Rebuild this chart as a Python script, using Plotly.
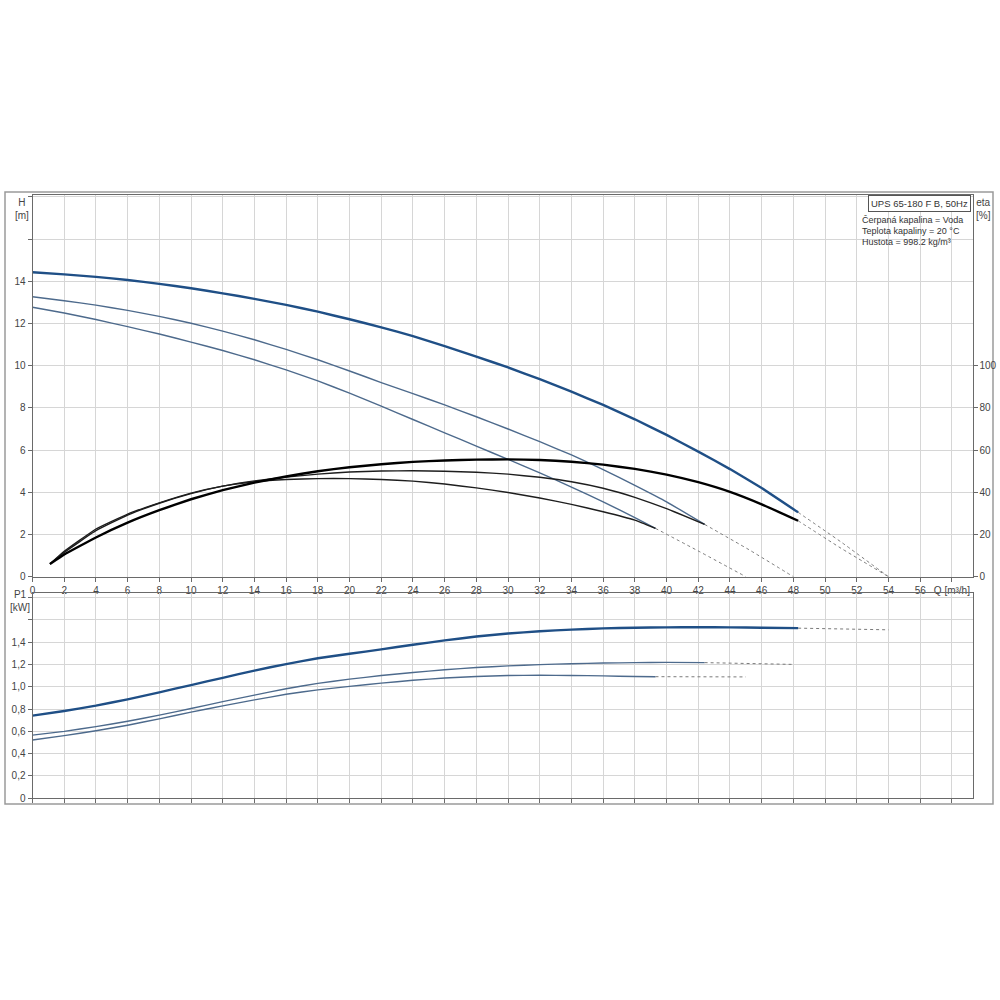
import plotly.graph_objects as go

# ---------------- data ----------------
# Head curves H [m] vs Q [m3/h]
q_h_high = [0, 2, 4, 6, 8, 10, 12, 14, 16, 18, 20, 22, 24, 26, 28, 30, 32, 34, 36, 38, 40, 42, 44, 46, 48.3]
h_high = [14.43, 14.33, 14.21, 14.06, 13.88, 13.67, 13.43, 13.17, 12.88, 12.56, 12.2, 11.82, 11.4,
          10.93, 10.43, 9.92, 9.36, 8.77, 8.14, 7.46, 6.72, 5.93, 5.1, 4.2, 3.05]
q_h_mid = [0, 2, 4, 6, 8, 10, 12, 14, 16, 18, 20, 22, 24, 26, 28, 30, 32, 34, 36, 38, 40, 42.4]
h_mid = [13.27, 13.08, 12.87, 12.62, 12.34, 12.01, 11.64, 11.23, 10.77, 10.28, 9.75, 9.2, 8.68,
         8.14, 7.58, 7.0, 6.4, 5.77, 5.08, 4.33, 3.55, 2.48]
q_h_low = [0, 2, 4, 6, 8, 10, 12, 14, 16, 18, 20, 22, 24, 26, 28, 30, 32, 34, 36, 38, 39.3]
h_low = [12.77, 12.5, 12.19, 11.85, 11.5, 11.12, 10.72, 10.28, 9.8, 9.28, 8.7, 8.08, 7.45,
         6.82, 6.19, 5.56, 4.92, 4.25, 3.55, 2.8, 2.29]

# Extrapolated (dotted) head parts
q_h_high_ext = [48.3, 51, 54]
h_high_ext = [3.05, 1.65, 0]
q_h_mid_ext = [42.4, 45.2, 48]
h_mid_ext = [2.48, 1.28, 0]
q_h_low_ext = [39.3, 42.1, 45]
h_low_ext = [2.29, 1.18, 0]

# Efficiency curves eta [%]
q_eta_high = [1.1, 2, 4, 6, 8, 10, 12, 14, 16, 18, 20, 22, 24, 26, 28, 30, 32, 34, 36, 38, 40, 42, 44, 46, 48.3]
eta_high = [6, 10.5, 18.6, 25.6, 31.5, 36.7, 41, 44.6, 47.5, 50, 51.9, 53.3, 54.4, 55.1, 55.5, 55.6,
            55.3, 54.5, 53.1, 51.1, 48.4, 44.8, 40.2, 34.3, 26.5]
q_eta_mid = [1.1, 2, 4, 6, 8, 10, 12, 14, 16, 18, 20, 22, 24, 26, 28, 30, 32, 34, 36, 38, 40, 42.4]
eta_mid = [6, 11.5, 21.8, 29.2, 34.8, 39.4, 42.9, 45.4, 47.2, 48.6, 49.6, 50.1, 50.2, 50.0, 49.5,
           48.6, 47.1, 45.0, 41.9, 37.6, 32.3, 24.8]
q_eta_low = [1.1, 2, 4, 6, 8, 10, 12, 14, 16, 18, 20, 22, 24, 26, 28, 30, 32, 34, 36, 38, 39.3]
eta_low = [6, 12, 22.6, 29.7, 35, 39.6, 42.9, 45, 46.1, 46.5, 46.5, 46.1, 45.3, 43.9, 42.1, 39.9,
           37.3, 34.3, 30.8, 26.8, 22.9]
q_eta_high_ext = [48.3, 51, 54]
eta_high_ext = [26.5, 13.5, 0]

# Power curves P1 [kW]
q_p_high = [0, 2, 4, 6, 8, 10, 12, 14, 16, 18, 20, 22, 24, 26, 28, 30, 32, 34, 36, 38, 40, 42, 44, 46, 48.3]
p_high = [0.741, 0.783, 0.83, 0.887, 0.95, 1.015, 1.08, 1.145, 1.203, 1.255, 1.295, 1.335, 1.376,
          1.415, 1.45, 1.477, 1.497, 1.512, 1.523, 1.529, 1.532, 1.533, 1.532, 1.529, 1.525]
q_p_mid = [0, 2, 4, 6, 8, 10, 12, 14, 16, 18, 20, 22, 24, 26, 28, 30, 32, 34, 36, 38, 40, 42.4]
p_mid = [0.566, 0.6, 0.642, 0.69, 0.745, 0.805, 0.866, 0.925, 0.982, 1.03, 1.068, 1.1, 1.128,
         1.152, 1.172, 1.187, 1.198, 1.206, 1.212, 1.216, 1.218, 1.216]
q_p_low = [0, 2, 4, 6, 8, 10, 12, 14, 16, 18, 20, 22, 24, 26, 28, 30, 32, 34, 36, 38, 39.3]
p_low = [0.522, 0.562, 0.605, 0.655, 0.712, 0.772, 0.828, 0.882, 0.932, 0.972, 1.003, 1.032, 1.058,
         1.078, 1.092, 1.10, 1.103, 1.101, 1.097, 1.092, 1.09]
q_p_high_ext = [48.3, 54]
p_high_ext = [1.525, 1.51]
q_p_mid_ext = [42.4, 48]
p_mid_ext = [1.216, 1.20]
q_p_low_ext = [39.3, 45]
p_low_ext = [1.09, 1.088]

# Ticks
q_ticks = list(range(0, 60, 2))
q_ticktext = [str(v) for v in range(0, 58, 2)] + ["Q [m³/h]"]
h_ticks = list(range(0, 20, 2))
h_ticktext = [str(v) for v in range(0, 16, 2)] + ["", ""]
eta_ticks = [0, 20, 40, 60, 80, 100]
p_ticks = [0, 0.2, 0.4, 0.6, 0.8, 1.0, 1.2, 1.4, 1.6, 1.8]
p_ticktext = ["0", "0,2", "0,4", "0,6", "0,8", "1,0", "1,2", "1,4", "", ""]

title_box = "UPS 65-180 F B, 50Hz"
info_lines = ["Čerpaná kapalina = Voda", "Teplota kapaliny = 20 °C", "Hustota = 998.2 kg/m³"]

# ---------------- styles ----------------
C_MAIN = "#1f4f86"
C_SUB = "#4d6a8c"
C_ETA = "#000000"
C_ETA2 = "#1e1e1e"
C_EXT = "#7a7a7a"
GRID = "#d6d6d6"
AXIS = "#6a6a6a"
FONT = "Liberation Sans, Arial, sans-serif"

fig = go.Figure()


def line(x, y, color, width, xa="x", ya="y", dash="solid"):
    fig.add_trace(go.Scatter(x=x, y=y, mode="lines", xaxis=xa, yaxis=ya,
                             line=dict(color=color, width=width, dash=dash, shape="spline", smoothing=0.3),
                             showlegend=False, hoverinfo="skip"))


# dotted extensions first (underneath)
line(q_h_high_ext, h_high_ext, C_EXT, 1, dash="dot")
line(q_h_mid_ext, h_mid_ext, C_EXT, 1, dash="dot")
line(q_h_low_ext, h_low_ext, C_EXT, 1, dash="dot")
line(q_eta_high_ext, eta_high_ext, C_EXT, 1, ya="y3", dash="dot")
line(q_p_high_ext, p_high_ext, C_EXT, 1, xa="x2", ya="y2", dash="dot")
line(q_p_mid_ext, p_mid_ext, C_EXT, 1, xa="x2", ya="y2", dash="dot")
line(q_p_low_ext, p_low_ext, C_EXT, 1, xa="x2", ya="y2", dash="dot")

# head
line(q_h_mid, h_mid, C_SUB, 1.4)
line(q_h_low, h_low, C_SUB, 1.4)
line(q_h_high, h_high, C_MAIN, 2.4)
# efficiency
line(q_eta_mid, eta_mid, C_ETA2, 1.4, ya="y3")
line(q_eta_low, eta_low, C_ETA2, 1.4, ya="y3")
line(q_eta_high, eta_high, C_ETA, 2.4, ya="y3")
# power
line(q_p_mid, p_mid, C_SUB, 1.4, xa="x2", ya="y2")
line(q_p_low, p_low, C_SUB, 1.4, xa="x2", ya="y2")
line(q_p_high, p_high, C_MAIN, 2.4, xa="x2", ya="y2")

XDOM = [0.0325, 0.9725]
tickfont = dict(family=FONT, size=10, color="#444")
common_x = dict(domain=XDOM, range=[0, 59.3], tickvals=q_ticks, showgrid=True, gridcolor=GRID,
                gridwidth=1, zeroline=False, showline=True, linecolor=AXIS, linewidth=1, mirror=True,
                ticks="outside", ticklen=4, tickcolor=AXIS, tickfont=tickfont, automargin=False)

fig.update_layout(
    width=1000, height=1000,
    margin=dict(l=0, r=0, t=0, b=0, autoexpand=False),
    paper_bgcolor="white", plot_bgcolor="white",
    font=dict(family=FONT, size=10, color="#444"),
    xaxis=dict(**common_x, anchor="y", ticktext=q_ticktext),
    xaxis2=dict(**common_x, anchor="y2", showticklabels=False, ticktext=q_ticktext),
    yaxis=dict(domain=[0.4233, 0.805], range=[0, 18.09], tickvals=h_ticks, ticktext=h_ticktext,
               showgrid=True, gridcolor=GRID, zeroline=False, showline=True, linecolor=AXIS, mirror=True,
               ticks="outside", ticklen=4, tickcolor=AXIS, tickfont=tickfont, anchor="x", automargin=False),
    yaxis3=dict(overlaying="y", side="right", anchor="x", range=[0, 180.9], tickvals=eta_ticks,
                showgrid=False, zeroline=False, showline=False, ticks="outside", ticklen=4,
                tickcolor=AXIS, tickfont=tickfont, automargin=False),
    yaxis2=dict(domain=[0.2017, 0.407], range=[0, 1.84], tickvals=p_ticks, ticktext=p_ticktext,
                showgrid=True, gridcolor=GRID, zeroline=False, showline=True, linecolor=AXIS, mirror=True,
                ticks="outside", ticklen=4, tickcolor=AXIS, tickfont=tickfont, anchor="x2", automargin=False),
)

ann = [
    dict(text="H<br>[m]", x=0.022, y=0.7915),
    dict(text="eta<br>[%]", x=0.983, y=0.7915),
    dict(text="P1<br>[kW]", x=0.02, y=0.3985),
]
for a in ann:
    fig.add_annotation(text=a["text"], x=a["x"], y=a["y"], xref="paper", yref="paper",
                       showarrow=False, xanchor="center", yanchor="middle",
                       font=dict(family=FONT, size=10, color="#444"))

fig.add_annotation(text=title_box, x=0.9705, y=0.805, xref="paper", yref="paper", showarrow=False,
                   xanchor="right", yanchor="top", bordercolor="#555", borderwidth=1, borderpad=2,
                   bgcolor="white", font=dict(family=FONT, size=9.5, color="#333"))
for i, t in enumerate(info_lines):
    fig.add_annotation(text=t, x=0.86, y=1 - (220 + 11 * i) / 1000, xref="paper", yref="paper",
                       showarrow=False, xanchor="left", yanchor="middle",
                       font=dict(family=FONT, size=9, color="#333"))

# outer frame
fig.add_shape(type="rect", xref="paper", yref="paper", x0=0.005, x1=0.993, y0=0.196, y1=0.808,
              line=dict(color="#9a9a9a", width=1.5), fillcolor="rgba(0,0,0,0)", layer="below")

fig.write_html("out.html", config={"displayModeBar": False},
               post_script="document.body.style.margin='0';document.body.style.overflow='hidden';")
